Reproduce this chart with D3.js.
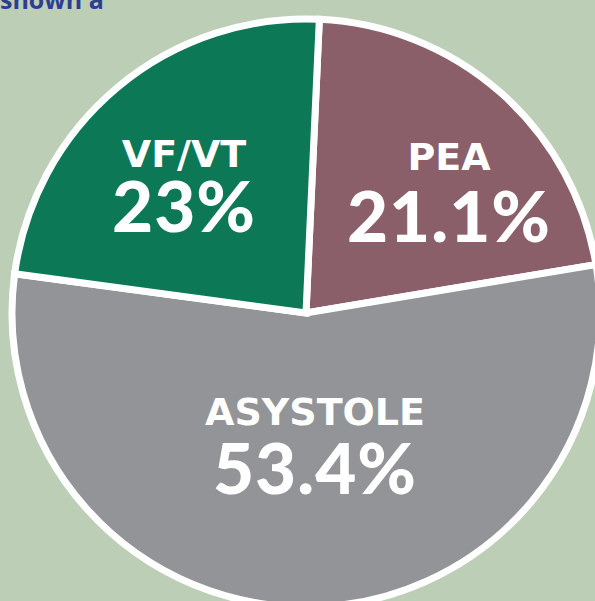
<!DOCTYPE html>
<html>
<head>
<meta charset="utf-8">
<script src="https://cdn.jsdelivr.net/npm/d3@7"></script>
<style>
  html, body { margin: 0; padding: 0; background: #bccfb6; }
  svg { display: block; }
</style>
</head>
<body>
<svg id="pie-svg"></svg>
<script>
// slice data, clockwise from the top
var labels = ["PEA", "ASYSTOLE", "VF/VT"];
var values = [21.1, 53.4, 23];
var pctText = ["21.1%", "53.4%", "23%"];
var colors = ["#8a5f69", "#939497", "#0c7856"];

var width = 595,
	height = 601,
	cx = 306,
	cy = 313,
	radius = 294;

// where the two text lines sit, relative to the centre (layout only)
var labelPos = [
	{ dx: 143, name: -143, pct: -71 },
	{ dx: 9, name: 112, pct: 181 },
	{ dx: -122, name: -146, pct: -81 }
];

var svg = d3.select("#pie-svg")
	.attr("width", width)
	.attr("height", height);

// cut-off caption from the page above
svg.append("text")
	.attr("x", 0)
	.attr("y", 9)
	.attr("fill", "#2d3e92")
	.style("font-family", "'Open Sans', sans-serif")
	.style("font-weight", 700)
	.style("font-size", "25px")
	.text("shown a");

var startA = 2.6 * Math.PI / 180;
var pie = d3.pie()
	.sort(null)
	.value(d => d)
	.startAngle(startA)
	.endAngle(startA + 2 * Math.PI);

var arc = d3.arc().innerRadius(0).outerRadius(radius);

var g = svg.append("g").attr("transform", `translate(${cx},${cy})`);

g.selectAll("path.slice")
	.data(pie(values))
	.enter().append("path")
	.classed("slice", true)
	.attr("d", arc)
	.attr("fill", (d, i) => colors[i])
	.attr("stroke", "#fff")
	.attr("stroke-width", 7)
	.attr("stroke-linejoin", "miter");

var lbl = g.selectAll("g.lbl")
	.data(labels)
	.enter().append("g")
	.classed("lbl", true)
	.attr("transform", (d, i) => `translate(${labelPos[i].dx},0)`)
	.attr("fill", "#fff")
	.attr("text-anchor", "middle");

lbl.append("text")
	.attr("y", (d, i) => labelPos[i].name)
	.style("font-family", "'DejaVu Sans', sans-serif")
	.style("font-weight", 700)
	.style("font-size", "38px")
	.text(d => d);

lbl.append("text")
	.attr("y", (d, i) => labelPos[i].pct)
	.style("font-family", "Lato, sans-serif")
	.style("font-weight", 900)
	.style("font-size", "71px")
	.style("letter-spacing", "1px")
	.text((d, i) => pctText[i]);
</script>
</body>
</html>
